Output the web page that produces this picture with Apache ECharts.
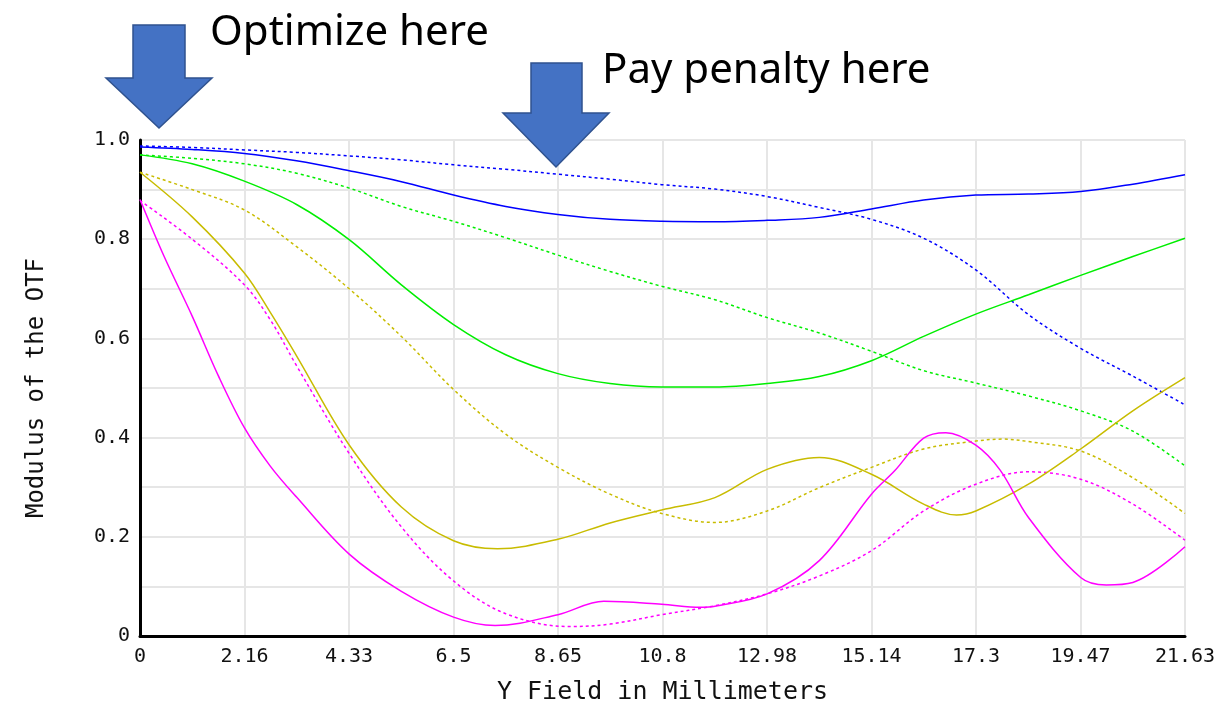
<!DOCTYPE html>
<html>
<head>
<meta charset="utf-8">
<title>Modulus of the OTF</title>
<script src="https://cdn.jsdelivr.net/npm/echarts@6/dist/echarts.min.js"></script>
<style>
  html, body { margin: 0; padding: 0; background: #fff; }
  #chart { width: 1226px; height: 711px; }
</style>
</head>
<body>
<div id="chart"></div>
<script>
const fieldMm = [0, 1.08, 2.16, 3.24, 4.33, 5.41, 6.49, 7.57, 8.65, 9.73, 10.8,
  11.9, 12.98, 14.06, 15.14, 16.22, 17.3, 18.39, 19.47, 20.55, 21.63];

// solid and dashed curve of each colour, read at fieldMm
const blueSolid = [0.986, 0.981, 0.973, 0.958, 0.938, 0.916, 0.889, 0.866, 0.850, 0.840, 0.836,
  0.835, 0.838, 0.844, 0.861, 0.879, 0.889, 0.891, 0.896, 0.911, 0.930];
const blueDash = [0.988, 0.985, 0.980, 0.975, 0.968, 0.960, 0.950, 0.941, 0.931, 0.921, 0.910,
  0.901, 0.886, 0.864, 0.840, 0.802, 0.738, 0.648, 0.580, 0.524, 0.466];
const greenSolid = [0.970, 0.952, 0.917, 0.870, 0.799, 0.708, 0.628, 0.567, 0.529, 0.509, 0.502,
  0.502, 0.509, 0.523, 0.555, 0.604, 0.649, 0.688, 0.727, 0.765, 0.802];
const greenDash = [0.970, 0.963, 0.952, 0.933, 0.903, 0.866, 0.836, 0.803, 0.768, 0.735, 0.705,
  0.678, 0.642, 0.611, 0.574, 0.535, 0.510, 0.484, 0.454, 0.413, 0.343];
const oliveSolid = [0.935, 0.845, 0.732, 0.565, 0.385, 0.260, 0.192, 0.177, 0.195, 0.228, 0.254,
  0.279, 0.336, 0.360, 0.326, 0.266, 0.252, 0.306, 0.377, 0.454, 0.521];
const oliveDash = [0.935, 0.900, 0.859, 0.785, 0.700, 0.604, 0.497, 0.407, 0.340, 0.286, 0.247,
  0.229, 0.252, 0.299, 0.340, 0.377, 0.393, 0.392, 0.373, 0.319, 0.247];
const magentaSolid = [0.880, 0.645, 0.420, 0.280, 0.165, 0.090, 0.038, 0.022, 0.043, 0.068, 0.064,
  0.060, 0.085, 0.152, 0.286, 0.399, 0.385, 0.239, 0.118, 0.108, 0.180];
const magentaDash = [0.878, 0.800, 0.708, 0.545, 0.368, 0.220, 0.111, 0.045, 0.021, 0.024, 0.043,
  0.061, 0.085, 0.121, 0.172, 0.252, 0.306, 0.330, 0.316, 0.266, 0.193];

// extra readings (turning points, steep parts), [mm, modulus]
const oliveSolidExtra = [[2.7, 0.652], [7.4, 0.176], [16.9, 0.244]];
const oliveDashExtra = [[17.85, 0.397]];
const magentaSolidExtra = [[0.5, 0.765], [1.62, 0.525], [2.7, 0.342], [7.35, 0.021],
  [9.6, 0.070], [11.6, 0.058], [15.62, 0.333], [16.68, 0.410], [17.8, 0.335], [20.0, 0.103]];
const magentaDashExtra = [[2.7, 0.637], [8.9, 0.019], [18.4, 0.331]];

// x axis ticks and their printed labels
const xTickValues = [0, 2.163, 4.326, 6.489, 8.652, 10.815, 12.978, 15.141, 17.304, 19.467, 21.63];
const xTickLabels = ["0", "2.16", "4.33", "6.5", "8.65", "10.8", "12.98", "15.14", "17.3", "19.47", "21.63"];
const yTickLabels = ["0", "0.2", "0.4", "0.6", "0.8", "1.0"];

const mono = "DejaVu Sans Mono";

function pairs(vals, extra) {
  extra = extra || [];
  let p = fieldMm.map((x, i) => [x, vals[i]])
    .filter(d => !extra.some(t => Math.abs(t[0] - d[0]) < 0.28));
  p = p.concat(extra);
  p.sort((a, b) => a[0] - b[0]);
  return p;
}

function line(name, vals, extra, color, dashed) {
  return {
    name: name,
    type: "line",
    data: pairs(vals, extra),
    smooth: 0.35,
    showSymbol: false,
    symbol: "none",
    lineStyle: {
      color: color,
      width: 1.5,
      type: dashed ? [3, 3] : "solid"
    },
    z: dashed ? 3 : 4
  };
}

const chart = echarts.init(document.getElementById("chart"));
chart.setOption({
  animation: false,
  backgroundColor: "#fff",
  grid: { left: 140, right: 41, top: 140, bottom: 75 },
  xAxis: {
    type: "value",
    min: 0,
    max: 21.63,
    interval: 2.163,
    name: "Y Field in Millimeters",
    nameLocation: "middle",
    nameGap: 44,
    nameTextStyle: { fontFamily: mono, fontSize: 25, color: "#111" },
    axisLine: { show: true, lineStyle: { color: "#000", width: 3 } },
    axisTick: { show: false, customValues: xTickValues },
    axisLabel: {
      customValues: xTickValues,
      fontFamily: mono,
      fontSize: 20,
      color: "#111",
      margin: 11,
      formatter: function (v) {
        const i = xTickValues.findIndex(t => Math.abs(t - v) < 0.01);
        return i >= 0 ? xTickLabels[i] : "";
      }
    },
    splitLine: { show: true, lineStyle: { color: "#e6e6e6", width: 2 } }
  },
  yAxis: {
    type: "value",
    min: 0,
    max: 1,
    interval: 0.1,
    name: "Modulus of the OTF",
    nameLocation: "middle",
    nameGap: 91,
    nameTextStyle: { fontFamily: mono, fontSize: 24, color: "#111" },
    axisLine: { show: true, lineStyle: { color: "#000", width: 3 } },
    axisTick: { show: false },
    axisLabel: {
      fontFamily: mono,
      fontSize: 20,
      color: "#111",
      margin: 10,
      formatter: function (v) {
        const k = Math.round(v * 10);
        return k % 2 === 0 ? yTickLabels[k / 2] : "";
      }
    },
    splitLine: { show: true, lineStyle: { color: "#e6e6e6", width: 2 } }
  },
  series: [
    line("blue T", blueSolid, null, "#0000ff", false),
    line("blue S", blueDash, null, "#0000ff", true),
    line("green T", greenSolid, null, "#00ee00", false),
    line("green S", greenDash, null, "#00ee00", true),
    line("olive T", oliveSolid, oliveSolidExtra, "#c8bc00", false),
    line("olive S", oliveDash, oliveDashExtra, "#c8bc00", true),
    line("magenta T", magentaSolid, magentaSolidExtra, "#ff00ff", false),
    line("magenta S", magentaDash, magentaDashExtra, "#ff00ff", true)
  ],
  graphic: [
    {
      type: "polygon",
      shape: { points: [[133, 25], [185, 25], [185, 78], [212, 78], [159, 128], [106, 78], [133, 78]] },
      style: { fill: "#4472c4", stroke: "#2f528f", lineWidth: 1.5 },
      z: 10
    },
    {
      type: "polygon",
      shape: { points: [[531, 63], [582, 63], [582, 113], [609, 113], [556, 167], [503, 113], [531, 113]] },
      style: { fill: "#4472c4", stroke: "#2f528f", lineWidth: 1.5 },
      z: 10
    },
    {
      type: "text",
      left: 210,
      top: 12,
      style: { text: "Optimize here", font: "42px 'Noto Sans'", fill: "#000" },
      z: 10
    },
    {
      type: "text",
      left: 602,
      top: 50,
      style: { text: "Pay penalty here", font: "42px 'Noto Sans'", fill: "#000" },
      z: 10
    }
  ]
});
</script>
</body>
</html>
